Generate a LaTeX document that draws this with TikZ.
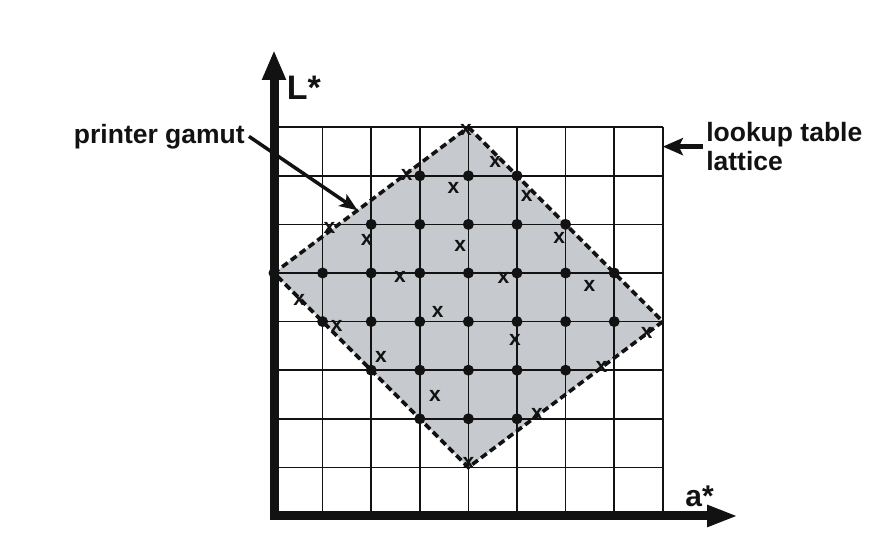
\documentclass[tikz,border=0pt]{standalone}
\usepackage{fontspec}
\setmainfont{Liberation Sans}
\usetikzlibrary{arrows.meta,positioning,calc}
\definecolor{gamut}{RGB}{198,201,206}
\definecolor{ink}{RGB}{18,18,18}

\begin{document}
\begin{tikzpicture}[x=48.6pt,y=48.6pt,
    lbl/.style={font=\bfseries\fontsize{26.5}{28.4}\selectfont,text=ink,inner sep=0pt},
    xmark/.style={font=\bfseries\fontsize{21}{21}\selectfont,text=ink,inner sep=0pt},
    latticedot/.style={circle,fill=ink,inner sep=0pt,minimum size=11pt}]
    \useasboundingbox (-5.638,-0.473) rectangle (12.572,10.617);
    % corners of the gamut
    \coordinate (top) at (4,8);
    \coordinate (right) at (8,4);
    \coordinate (bot) at (4,1);
    \coordinate (left) at (0,5);
    \fill[gamut] (top) -- (right) -- (bot) -- (left) -- cycle;
    \draw[ink,line width=1.6pt,step=48.6pt] (0,0) grid (8,8);
    \draw[ink,line width=3.6pt,dash pattern=on 7pt off 4pt] (top) -- (right) -- (bot) -- (left) -- cycle;
    % lattice points inside the gamut
    \foreach \r/\a/\b in {7/3/5,6/2/6,5/0/7,4/1/7,3/2/6,2/3/5}
      \foreach \c in {\a,...,\b}
        \node[latticedot] (p\c\r) at (\c,\r) {};
    % measured samples
    \foreach \x/\y [count=\i] in {
      4.55/7.28, 2.73/7.02, 5.20/6.58, 3.69/6.75, 1.14/5.93, 1.91/5.68,
      3.83/5.56, 5.87/5.72, 2.59/4.92, 4.72/4.90, 6.49/4.73, 0.52/4.44,
      1.29/3.90, 3.37/4.20, 2.20/3.28, 4.96/3.62, 7.67/3.77, 6.74/3.07,
      3.31/2.47, 5.41/2.09, 3.95/7.94, 4.00/1.09}
      \node[xmark] (s\i) at (\x,\y) {x};
    % axes
    \draw[ink,line width=9pt,{Triangle[length=30pt,width=22pt]}-{Triangle[length=31pt,width=20pt]}]
      (0,9.59) -- (0,0) -- (9.55,0);
    \node[font=\bfseries\fontsize{34}{34}\selectfont,text=ink,inner sep=0pt,anchor=base west] (Lstar) at (0.26,8.56) {L*};
    \node[font=\bfseries\fontsize{30}{30}\selectfont,text=ink,inner sep=0pt,anchor=base west] (astar) at (8.46,0.19) {a*};
    % labels
    \node[lbl,anchor=base west] (gamutlbl) at (-4.12,7.67) {printer gamut};
    \coordinate (gamutedge) at ($(left)!0.43!(top)$);
    \draw[ink,line width=3.5pt,-{Stealth[length=18pt,width=14pt,inset=4pt]}]
      ([xshift=4pt]gamutlbl.east) -- (gamutedge);
    \node[lbl,anchor=west,align=left] (lookup) at (8.89,7.6) {lookup table\\lattice};
    \coordinate (latticeedge) at (8,7.6);
    \draw[ink,line width=5pt,-{Stealth[length=20pt,width=17pt,inset=4pt]}]
      ([xshift=-3pt]lookup.west) -- (latticeedge);
  \end{tikzpicture}
\end{document}
